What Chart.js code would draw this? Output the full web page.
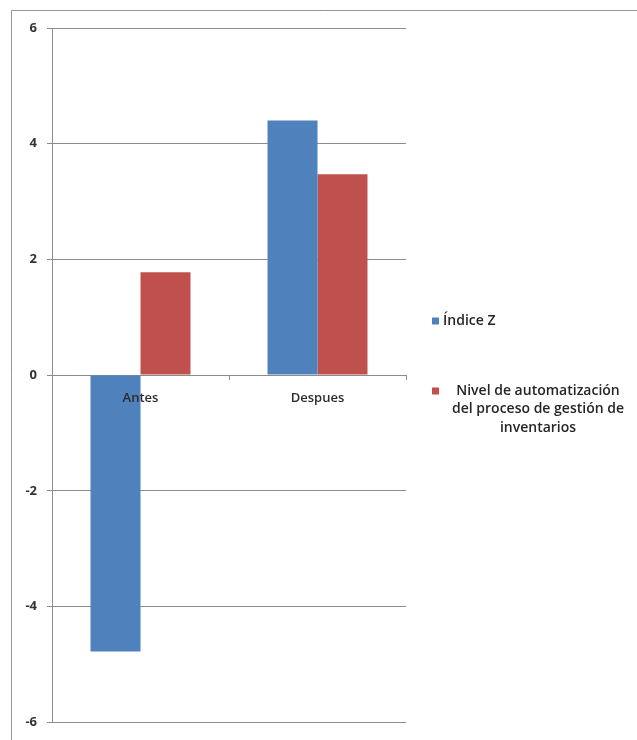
<!DOCTYPE html>
<html>
<head>
<meta charset="utf-8">
<script src="https://cdn.jsdelivr.net/npm/chart.js@4.4.1/dist/chart.umd.min.js"></script>
<style>
html, body { margin: 0; padding: 0; background: #fff; }
#wrap { position: relative; width: 637px; height: 740px; }
</style>
</head>
<body>
<div id="wrap"><canvas id="myChart"></canvas></div>
<script>
var categories = ['Antes', 'Despues'];
var indiceZ = [-4.78, 4.40];
var nivelAutomatizacion = [1.78, 3.47];
var seriesNames = [
    ['Índice Z'],
    ['Nivel de automatización', 'del proceso de gestión de', 'inventarios']
];
var yTicks = [-6, -4, -2, 0, 2, 4, 6];

var gridGray = '#8c8c8c';

// grey frame on the left and top, like the pasted Excel chart
var frame = {
    id: 'frame',
    beforeDraw: function(chart) {
        var c = chart.ctx;
        c.save();
        c.strokeStyle = '#969696';
        c.lineWidth = 1;
        c.beginPath();
        c.moveTo(11.5, chart.height);
        c.lineTo(11.5, 10.5);
        c.lineTo(chart.width, 10.5);
        c.stroke();
        c.restore();
    }
};

// legend on the right side, second entry wraps over three centred lines
var sideLegend = {
    id: 'sideLegend',
    afterDraw: function(chart) {
        var c = chart.ctx;
        var area = chart.chartArea;
        var boxX = area.right + 26;
        var rowY = [321, 391];
        var lineH = 18.5;
        c.save();
        c.font = '600 14px "Open Sans"';
        c.textBaseline = 'middle';
        chart.data.datasets.forEach(function(ds, i) {
            var y = rowY[i];
            c.fillStyle = ds.backgroundColor;
            c.fillRect(boxX, y - 3.5, 7, 7);
            c.fillStyle = '#262626';
            var lines = ds.label;
            if (lines.length === 1) {
                c.textAlign = 'left';
                c.fillText(lines[0], boxX + 11, y);
            } else {
                c.textAlign = 'center';
                lines.forEach(function(t, k) {
                    c.fillText(t, 538, y + k * lineH);
                });
            }
        });
        c.restore();
    }
};

var graphData = {
    labels: categories,
    datasets: [
        {
            label: seriesNames[0],
            data: indiceZ,
            backgroundColor: '#4f81bd'
        },
        {
            label: seriesNames[1],
            data: nivelAutomatizacion,
            backgroundColor: '#c0504d'
        }
    ]
};

var ctx = document.getElementById('myChart').getContext('2d');
window.myBar = new Chart(ctx, {
    type: 'bar',
    data: graphData,
    plugins: [frame, sideLegend],
    options: {
        responsive: true,
        maintainAspectRatio: false,
        animation: false,
        categoryPercentage: 0.565,
        barPercentage: 1.0,
        layout: {
            padding: { left: 0, top: 28, right: 231, bottom: 15 }
        },
        plugins: {
            legend: { display: false },
            tooltip: { enabled: false }
        },
        scales: {
            x: {
                position: { y: 0 },
                offset: true,
                grid: {
                    display: true,
                    offset: true,
                    drawOnChartArea: false,
                    drawTicks: true,
                    tickLength: 5,
                    color: gridGray
                },
                border: { display: false },
                ticks: {
                    z: 1,   // labels sit on top of the bars
                    color: '#2b2b2b',
                    padding: 10,
                    maxRotation: 0,
                    font: { family: 'Open Sans', size: 13, weight: '600' }
                }
            },
            y: {
                min: -6,
                max: 6,
                afterBuildTicks: function(scale) {
                    scale.ticks = yTicks.map(function(v) { return { value: v }; });
                },
                afterFit: function(scale) {
                    scale.width = 52;
                },
                grid: { color: gridGray, tickLength: 5 },
                border: { display: true, color: gridGray },
                ticks: {
                    padding: 10,
                    color: '#333',
                    font: { family: 'Open Sans', size: 13, weight: 'bold' }
                }
            }
        }
    }
});
</script>
</body>
</html>
